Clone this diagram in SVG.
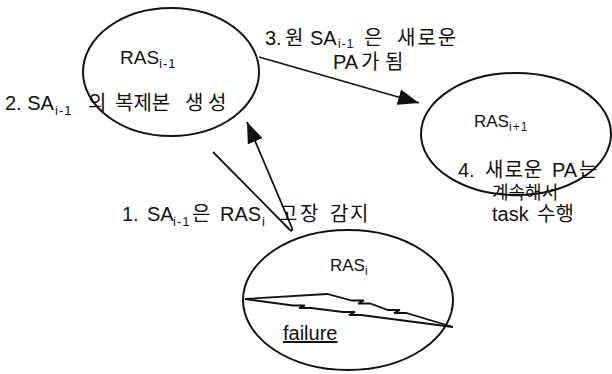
<svg xmlns="http://www.w3.org/2000/svg" width="612" height="374" viewBox="0 0 612 374">
<style>
.t{font-family:"Liberation Sans","Noto Sans CJK KR",sans-serif;font-size:20px;fill:#111}
.s{font-size:13px}
.node{fill:none;stroke:#111;stroke-width:2}
.ln{fill:none;stroke:#111;stroke-width:1.8}
</style>
<defs>
<marker id="ah" markerUnits="userSpaceOnUse" markerWidth="22" markerHeight="16" refX="21" refY="8" orient="auto">
<path d="M0,0 L21,8 L0,16 z" fill="#111"/>
</marker>
</defs>
<rect width="612" height="374" fill="#fff"/>
<g id="ras-im1">
<ellipse class="node" cx="171" cy="72" rx="88" ry="64"/>
<text class="t" x="120" y="64" style="font-size:19px">RAS<tspan class="s" x="159" y="68" letter-spacing="1">i-1</tspan></text>
</g>
<g id="ras-ip1">
<ellipse class="node" cx="516" cy="134" rx="95" ry="61"/>
<text class="t" x="474" y="127" style="font-size:17px">RAS<tspan class="s" x="509" y="131" style="font-size:12px" letter-spacing="1">i+1</tspan></text>
</g>
<g id="ras-i">
<ellipse class="node" cx="348" cy="300" rx="105" ry="70"/>
<text class="t" x="330" y="271" style="font-size:17px">RAS<tspan class="s" x="365" y="275" style="font-size:12px">i</tspan></text>
<path class="ln" d="M245,299 L327,294 L352,300.5 L364,300.5 L358,303.5 L370,303.5 L388,310 L400,310 L394,313 L406,313 L453,327"/>
<path class="ln" d="M245,299 L293,305.5 L305,305.5 L299,308 L311,308 L343,312 L355,312 L349,315 L361,315 L453,327"/>
<text class="t" x="283" y="340" text-decoration="underline">failure</text>
</g>
<g id="connectors">
<path class="ln" d="M259,57 L419,103" marker-end="url(#ah)"/>
<path class="ln" d="M213,152 L289,229 Q293,233 292,228 L247,122" marker-end="url(#ah)"/>
</g>
<g id="labels">
<text class="t" x="5" y="110">2. SA<tspan class="s" x="55" y="115" letter-spacing="1">i-1</tspan><tspan x="88" y="110">의</tspan><tspan x="115">복제본</tspan><tspan x="185">생</tspan><tspan x="208">성</tspan></text>
<text class="t" x="265" y="45">3.<tspan x="285">원</tspan><tspan x="310">SA</tspan><tspan class="s" x="338" y="48" style="font-size:12px" letter-spacing="1">i-1</tspan><tspan x="364" y="45">은</tspan><tspan x="397" letter-spacing="2">새로운</tspan></text>
<text class="t" x="333" y="69">PA<tspan x="361">가</tspan><tspan x="385">됨</tspan></text>
<text class="t" x="458" y="177">4.<tspan x="485" letter-spacing="1">새로운</tspan><tspan x="552">PA</tspan><tspan x="579">는</tspan></text>
<text class="t" x="492" y="199" style="font-size:18px">계속해서</text>
<text class="t" x="492" y="221">task<tspan x="537">수행</tspan></text>
<text class="t" x="122" y="221">1.<tspan x="147">SA</tspan><tspan class="s" x="173" y="226" letter-spacing="1">i-1</tspan><tspan x="192" y="221">은</tspan><tspan x="220">RAS</tspan><tspan class="s" x="262" y="226">i</tspan><tspan x="279" y="221">고</tspan><tspan x="300">장</tspan><tspan x="330">감</tspan><tspan x="350">지</tspan></text>
</g>
</svg>
